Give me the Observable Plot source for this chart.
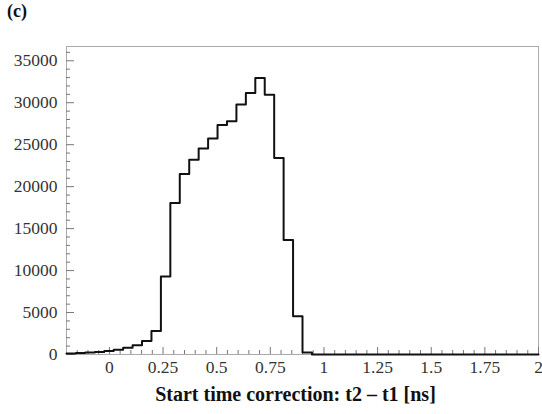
<!DOCTYPE html>
<html>
<head>
<meta charset="utf-8">
<script src="https://cdn.jsdelivr.net/npm/d3@7"></script>
<script src="https://cdn.jsdelivr.net/npm/@observablehq/plot@0.6"></script>
<style>
  html, body { margin: 0; padding: 0; background: #fff; }
  #wrap { position: relative; width: 542px; height: 414px; }
  #tag { position: absolute; left: 7px; top: 1px; font: bold 18px "Liberation Serif", serif; color: #111; }
  #wrap svg, #wrap svg text { font-family: "Liberation Serif", serif !important; }
</style>
</head>
<body>
<div id="wrap"><div id="tag">(c)</div></div>
<script>
// Histogram: 50 bins from -0.2 to 2 ns
const binStart = -0.2;
const binWidth = 0.044;
const counts = [
  120, 170, 230, 300, 420, 560, 800, 1100, 1600, 2800,
  9300, 18050, 21500, 23200, 24550, 25750, 27350, 27800, 29800, 31150,
  32950, 30950, 23400, 13650, 4550, 250, 0, 0, 0, 0,
  0, 0, 0, 0, 0, 0, 0, 0, 0, 0,
  0, 0, 0, 0, 0, 0, 0, 0, 0, 0
];
const xMajorTicks = [0, 0.25, 0.5, 0.75, 1, 1.25, 1.5, 1.75, 2];
const xMinorTicks = [-0.15, -0.1, -0.05, 0.05, 0.1, 0.15, 0.2, 0.3, 0.35, 0.4, 0.45, 0.55, 0.6, 0.65, 0.7, 0.8, 0.85, 0.9, 0.95, 1.05, 1.1, 1.15, 1.2, 1.3, 1.35, 1.4, 1.45, 1.55, 1.6, 1.65, 1.7, 1.8, 1.85, 1.9, 1.95];
const yMajorTicks = [0, 5000, 10000, 15000, 20000, 25000, 30000, 35000];
const yMinorTicks = [1000, 2000, 3000, 4000, 6000, 7000, 8000, 9000, 11000, 12000, 13000, 14000, 16000, 17000, 18000, 19000, 21000, 22000, 23000, 24000, 26000, 27000, 28000, 29000, 31000, 32000, 33000, 34000, 36000];
const xLabel = "Start time correction: t2 \u2013 t1 [ns]";

const steps = counts.map((c, i) => ({x: binStart + i * binWidth, y: c}));
steps.push({x: binStart + counts.length * binWidth, y: counts[counts.length - 1]});

const W = 542, H = 414, mt = 46, mb = 60, ml = 66, mr = 4;
const innerW = W - ml - mr, innerH = H - mt - mb;
const tickColor = "#777";
const serif = "Liberation Serif";

const chart = Plot.plot({
  width: W, height: H,
  marginTop: mt, marginBottom: mb, marginLeft: ml, marginRight: mr,
  style: {fontSize: "17px", background: "#fff", color: "#222"},
  x: {domain: [-0.2, 2]},
  y: {domain: [0, 36700]},
  marks: [
    Plot.frame({stroke: "#aaa", strokeWidth: 1}),
    Plot.ruleX(xMajorTicks, {x: d => d, insetTop: innerH - 7, stroke: tickColor, strokeWidth: 1}),
    Plot.ruleX(xMinorTicks, {x: d => d, insetTop: innerH - 4, stroke: tickColor, strokeWidth: 1}),
    Plot.ruleY(yMajorTicks, {y: d => d, insetRight: innerW - 8, stroke: tickColor, strokeWidth: 1}),
    Plot.ruleY(yMinorTicks, {y: d => d, insetRight: innerW - 4, stroke: tickColor, strokeWidth: 1}),
    Plot.axisX({ticks: xMajorTicks, tickSize: 0, tickPadding: 6, tickFormat: d => String(d), label: null, fill: "#333", fontFamily: serif, fontSize: 17.5}),
    Plot.axisY({ticks: yMajorTicks, tickSize: 0, tickPadding: 9, tickFormat: d => String(d), label: null, fill: "#333", fontFamily: serif, fontSize: 17.5}),
    Plot.line(steps, {x: "x", y: "y", curve: "step-after", stroke: "#111", strokeWidth: 2}),
    Plot.text([xLabel], {frameAnchor: "bottom", dy: 46, dx: -7, text: d => d, fontWeight: "bold", fontSize: 20, fontFamily: serif, fill: "#111"})
  ]
});
document.getElementById("wrap").appendChild(chart);
</script>
</body>
</html>
